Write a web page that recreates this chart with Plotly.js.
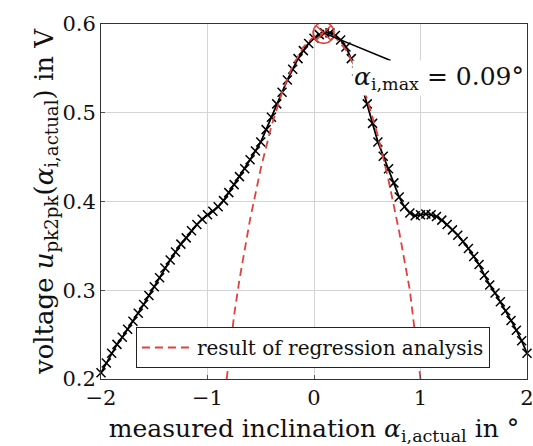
<!DOCTYPE html>
<html>
<head>
<meta charset="utf-8">
<script src="https://cdn.plot.ly/plotly-3.0.1.min.js"></script>
<style>html,body{margin:0;padding:0;background:#fff;}#chart{width:533px;height:446px;}</style>
</head>
<body>
<div id="chart"></div>
<script>
// measured inclination (deg)
const measX = [-2.00,-1.95,-1.90,-1.85,-1.80,-1.75,-1.70,-1.65,-1.60,-1.55,-1.50,-1.45,-1.40,-1.35,-1.30,-1.25,-1.20,-1.15,-1.10,-1.05,
  -1.00,-0.95,-0.90,-0.85,-0.80,-0.75,-0.70,-0.65,-0.60,-0.55,-0.50,-0.45,-0.40,-0.35,-0.30,-0.25,-0.20,-0.15,-0.10,-0.05,
  0.00,0.05,0.10,0.15,0.20,0.25,0.30,0.35,0.40,0.45,0.50,0.55,0.60,0.65,0.70,0.75,0.80,0.85,0.90,0.95,
  1.00,1.05,1.10,1.15,1.20,1.25,1.30,1.35,1.40,1.45,1.50,1.55,1.60,1.65,1.70,1.75,1.80,1.85,1.90,1.95,2.00];
// measured voltage (V)
const measY = [0.207,0.218,0.229,0.239,0.247,0.256,0.265,0.274,0.284,0.294,0.304,0.314,0.325,0.334,0.343,0.352,0.359,0.367,0.374,0.380,
  0.385,0.389,0.394,0.401,0.410,0.419,0.428,0.437,0.447,0.457,0.467,0.481,0.495,0.510,0.523,0.537,0.549,0.561,0.570,0.578,
  0.584,0.588,0.590,0.590,0.587,0.582,0.574,0.561,0.547,0.530,0.510,0.488,0.467,0.451,0.437,0.421,0.405,0.394,0.387,0.384,
  0.385,0.386,0.385,0.383,0.379,0.374,0.368,0.362,0.355,0.347,0.338,0.329,0.317,0.306,0.297,0.287,0.277,0.266,0.255,0.243,0.229];
// regression curve
const regX = [-0.82,-0.75,-0.70,-0.60,-0.50,-0.40,-0.30,-0.20,-0.10,0.00,0.09,0.20,0.30,0.40,0.50,0.60,0.70,0.80,0.90,1.00];
const regY = [0.200,0.272,0.312,0.380,0.437,0.485,0.523,0.553,0.574,0.586,0.590,0.585,0.571,0.548,0.515,0.474,0.424,0.366,0.300,0.200];
// maximum
const peakX = [0.09];
const peakY = [0.59];
const pointerEnd = [0.72, 0.559];
const legendLabel = 'result of regression analysis';
const xTicks = [-2, -1, 0, 1, 2];
const yTicks = [0.2, 0.3, 0.4, 0.5, 0.6];

const FONT = 'DejaVu Serif, serif';
const red = '#e0413a';

const traces = [
  {x: measX, y: measY, type: 'scatter', mode: 'lines+markers', showlegend: false, cliponaxis: false,
   line: {color: '#000', width: 1.8},
   marker: {symbol: 'x-thin-open', size: 9, color: '#000', line: {color: '#000', width: 1.5}}},
  {x: regX, y: regY, type: 'scatter', mode: 'lines', name: legendLabel,
   line: {color: red, width: 1.8, dash: '8px,5px'}},
  {x: peakX, y: peakY, type: 'scatter', mode: 'markers', showlegend: false,
   marker: {symbol: 'circle-x-open', size: 21, color: red, line: {color: red, width: 1.6}}}
];

const layout = {
  width: 533, height: 446,
  margin: {l: 101, r: 6, t: 24, b: 67},
  paper_bgcolor: '#fff', plot_bgcolor: '#fff',
  font: {family: FONT, size: 20, color: '#111'},
  xaxis: {range: [-2, 2], tickvals: xTicks, ticktext: xTicks.map(v => v < 0 ? '\u2212' + Math.abs(v) : String(v)),
    ticklabeloverflow: 'allow',
    showgrid: true, gridcolor: '#d4d4d4', gridwidth: 1, zeroline: false,
    showline: true, mirror: true, linecolor: '#333', linewidth: 1,
    ticks: 'inside', ticklen: 4, tickcolor: '#555',
    tickfont: {family: FONT, size: 21, color: '#111'},
    title: {text: 'measured inclination <i>α</i><sub>i,actual</sub> in °', font: {family: FONT, size: 25, color: '#111'}, standoff: 16}},
  yaxis: {range: [0.2, 0.6], tickvals: yTicks, ticktext: yTicks.map(v => v.toFixed(1)),
    showgrid: true, gridcolor: '#d4d4d4', gridwidth: 1, zeroline: false,
    showline: true, mirror: true, linecolor: '#333', linewidth: 1,
    ticks: 'inside', ticklen: 4, tickcolor: '#555',
    tickfont: {family: FONT, size: 21, color: '#111'},
    title: {text: 'voltage <i>u</i><sub>pk2pk</sub>(<i>α</i><sub>i,actual</sub>) in V', font: {family: FONT, size: 26, color: '#111'}, standoff: 0}},
  legend: {x: 0.082, y: 0.031, xanchor: 'left', yanchor: 'bottom', bgcolor: '#fff', bordercolor: '#222', borderwidth: 1,
    itemwidth: 50, font: {family: FONT, size: 20, color: '#111'}},
  shapes: [{type: 'line', xref: 'x', yref: 'y', x0: peakX[0], y0: peakY[0], x1: pointerEnd[0], y1: pointerEnd[1],
    line: {color: '#000', width: 1.6}, layer: 'above'}],
  annotations: [{xref: 'x', yref: 'y', x: 1.17, y: 0.539, showarrow: false,
    text: '<i>α</i><sub>i,max</sub> = 0.09°', bgcolor: '#fff', borderpad: 1,
    font: {family: FONT, size: 25, color: '#111'}}]
};

Plotly.newPlot('chart', traces, layout, {displayModeBar: false, staticPlot: true});
</script>
</body>
</html>
